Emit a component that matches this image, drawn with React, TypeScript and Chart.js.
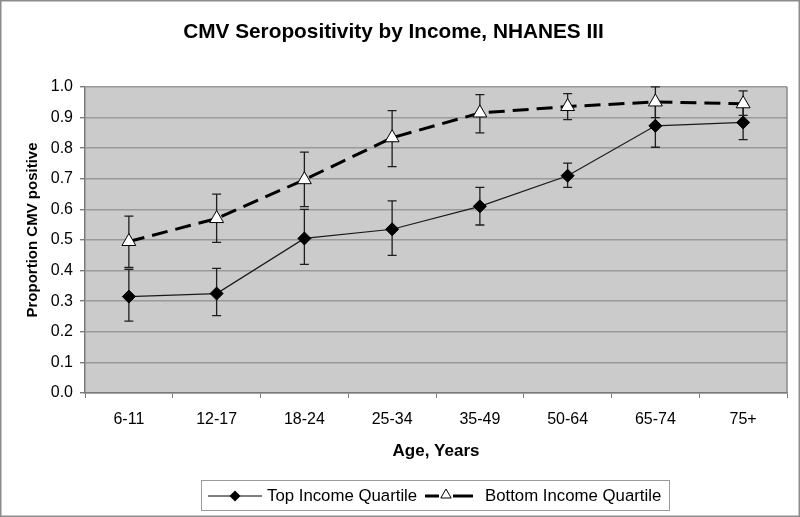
import React, { useEffect, useRef } from 'react';
import { Chart, registerables } from 'chart.js';

Chart.register(...registerables);

const FONT = '"Liberation Sans", Arial, Helvetica, sans-serif';

const chartTitle = 'CMV Seropositivity by Income, NHANES III';
const xTitle = 'Age, Years';
const yTitle = 'Proportion CMV positive';

const categories = ['6-11', '12-17', '18-24', '25-34', '35-49', '50-64', '65-74', '75+'];

const topLabel = 'Top Income Quartile';
const topIncome = [0.315, 0.325, 0.505, 0.535, 0.61, 0.71, 0.873, 0.884];
const topLow = [0.235, 0.253, 0.42, 0.45, 0.549, 0.672, 0.803, 0.828];
const topHigh = [0.404, 0.407, 0.6, 0.628, 0.672, 0.751, 0.945, 0.94];

const bottomLabel = 'Bottom Income Quartile';
const bottomIncome = [0.495, 0.57, 0.697, 0.834, 0.915, 0.936, 0.951, 0.945];
const bottomLow = [0.41, 0.492, 0.609, 0.74, 0.85, 0.893, 0.9, 0.907];
const bottomHigh = [0.578, 0.65, 0.787, 0.923, 0.975, 0.978, 1.0, 0.987];

const yTicks = [0, 0.1, 0.2, 0.3, 0.4, 0.5, 0.6, 0.7, 0.8, 0.9, 1.0];

export default function App() {
  const ref = useRef<HTMLCanvasElement>(null);

  useEffect(() => {
    document.body.style.margin = '0';
    const canvas = ref.current!;

    const background = {
      id: 'background',
      beforeDraw(chart: any) {
        const { ctx, chartArea: a } = chart;
        ctx.save();
        ctx.fillStyle = '#ffffff';
        ctx.fillRect(0, 0, chart.width, chart.height);
        ctx.fillStyle = '#cbcbcb';
        ctx.fillRect(a.left, a.top, a.right - a.left, a.bottom - a.top);
        ctx.restore();
      },
    };

    const errorBars = {
      id: 'errorBars',
      beforeDatasetsDraw(chart: any) {
        const { ctx, chartArea: a } = chart;
        const ys = chart.scales.y;
        ctx.save();
        // right border of plot area
        ctx.strokeStyle = '#8a8a8a';
        ctx.lineWidth = 1.5;
        ctx.beginPath();
        ctx.moveTo(a.right, a.top);
        ctx.lineTo(a.right, a.bottom);
        ctx.stroke();

        ctx.strokeStyle = '#1e1e1e';
        ctx.lineWidth = 1.3;
        const sets: [number, number[], number[]][] = [
          [0, topLow, topHigh],
          [1, bottomLow, bottomHigh],
        ];
        sets.forEach(([i, lo, hi]) => {
          const meta = chart.getDatasetMeta(i);
          meta.data.forEach((pt: any, j: number) => {
            const x = pt.x;
            const y1 = ys.getPixelForValue(lo[j]);
            const y2 = ys.getPixelForValue(hi[j]);
            ctx.beginPath();
            ctx.moveTo(x, y1);
            ctx.lineTo(x, y2);
            ctx.moveTo(x - 4.5, y1);
            ctx.lineTo(x + 4.5, y1);
            ctx.moveTo(x - 4.5, y2);
            ctx.lineTo(x + 4.5, y2);
            ctx.stroke();
          });
        });
        ctx.restore();
      },
    };

    const extras = {
      id: 'extras',
      afterDraw(chart: any) {
        const { ctx } = chart;
        ctx.save();
        // y axis title
        ctx.fillStyle = '#000';
        ctx.font = `bold 15px ${FONT}`;
        ctx.textAlign = 'center';
        ctx.textBaseline = 'middle';
        ctx.translate(33, 230);
        ctx.rotate(-Math.PI / 2);
        ctx.fillText(yTitle, 0, 0);
        ctx.restore();

        // legend
        ctx.save();
        ctx.strokeStyle = '#9a9a9a';
        ctx.lineWidth = 1;
        ctx.strokeRect(201.5, 480.5, 468, 30);
        const ly = 496;
        // top income sample
        ctx.strokeStyle = '#000';
        ctx.lineWidth = 1;
        ctx.beginPath();
        ctx.moveTo(208, ly);
        ctx.lineTo(262, ly);
        ctx.stroke();
        ctx.fillStyle = '#000';
        ctx.beginPath();
        ctx.moveTo(235 - 5.5, ly);
        ctx.lineTo(235, ly - 5.5);
        ctx.lineTo(235 + 5.5, ly);
        ctx.lineTo(235, ly + 5.5);
        ctx.closePath();
        ctx.fill();
        ctx.font = `16.8px ${FONT}`;
        ctx.textAlign = 'left';
        ctx.textBaseline = 'middle';
        ctx.fillText(topLabel, 267, ly);
        // bottom income sample
        ctx.lineWidth = 3;
        ctx.beginPath();
        ctx.moveTo(425, ly);
        ctx.lineTo(439, ly);
        ctx.moveTo(453, ly);
        ctx.lineTo(473, ly);
        ctx.stroke();
        ctx.lineWidth = 1;
        ctx.fillStyle = '#fff';
        const tx = 446, tyc = ly - 1, r = 6;
        ctx.beginPath();
        ctx.moveTo(tx, tyc - r);
        ctx.lineTo(tx + r * 0.866, tyc + r / 2);
        ctx.lineTo(tx - r * 0.866, tyc + r / 2);
        ctx.closePath();
        ctx.fill();
        ctx.stroke();
        ctx.fillStyle = '#000';
        ctx.fillText(bottomLabel, 485, ly);

        // outer frame
        ctx.strokeStyle = '#8c8c8c';
        ctx.lineWidth = 1.5;
        ctx.strokeRect(0.75, 0.75, chart.width - 1.5, chart.height - 1.5);
        ctx.restore();
      },
    };

    const chart = new Chart(canvas, {
      type: 'line',
      data: {
        labels: categories,
        datasets: [
          {
            label: topLabel,
            data: topIncome,
            borderColor: '#1a1a1a',
            borderWidth: 1.2,
            pointStyle: 'rectRot',
            pointRadius: 6.5,
            pointBackgroundColor: '#000',
            pointBorderColor: '#000',
            pointBorderWidth: 1,
            tension: 0,
            fill: false,
          },
          {
            label: bottomLabel,
            data: bottomIncome,
            borderColor: '#000',
            borderWidth: 3,
            borderDash: [16, 8],
            pointStyle: 'triangle',
            pointRadius: 8,
            pointBackgroundColor: '#fff',
            pointBorderColor: '#000',
            pointBorderWidth: 1,
            tension: 0,
            fill: false,
          },
        ],
      },
      options: {
        responsive: false,
        animation: false,
        events: [],
        layout: { padding: { left: 0, right: 13, top: 0, bottom: 47 } },
        plugins: {
          legend: { display: false },
          tooltip: { enabled: false },
          title: {
            display: true,
            text: chartTitle,
            color: '#000',
            font: { family: FONT, size: 20.8, weight: 'bold', lineHeight: 1.2 },
            padding: { top: 19.5, bottom: 42.5 },
          },
        },
        scales: {
          x: {
            type: 'category',
            offset: true,
            afterFit(scale: any) {
              scale.height = 77;
            },
            grid: {
              offset: true,
              drawOnChartArea: false,
              drawTicks: true,
              tickLength: 5,
              tickColor: '#7a7a7a',
            },
            border: { display: true, color: '#7a7a7a', width: 1.5 },
            ticks: {
              color: '#000',
              padding: 12,
              font: { family: FONT, size: 16 },
              maxRotation: 0,
            },
            title: {
              display: true,
              text: xTitle,
              color: '#000',
              font: { family: FONT, size: 17, weight: 'bold' },
              padding: { top: 0, bottom: 8 },
            },
          },
          y: {
            min: 0,
            max: 1,
            afterFit(scale: any) {
              scale.width = 85;
            },
            afterBuildTicks(scale: any) {
              scale.ticks = yTicks.map((v) => ({ value: v }));
            },
            grid: {
              color: '#9a9a9a',
              lineWidth: 1.4,
              drawTicks: true,
              tickLength: 5,
              tickColor: '#7a7a7a',
            },
            border: { display: true, color: '#7a7a7a', width: 1.5 },
            ticks: {
              color: '#000',
              padding: 7,
              font: { family: FONT, size: 16 },
              callback: (v: any) => Number(v).toFixed(1),
            },
          },
        },
      },
      plugins: [background, errorBars, extras],
    } as any);

    return () => chart.destroy();
  }, []);

  return (
    <div style={{ width: 800, height: 517, position: 'relative' }}>
      <canvas ref={ref} width={800} height={517} style={{ display: 'block' }} />
    </div>
  );
}
